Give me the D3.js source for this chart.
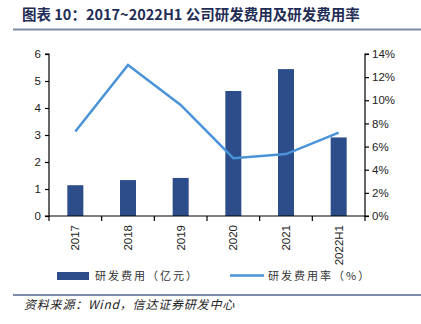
<!DOCTYPE html>
<html><head><meta charset="utf-8">
<script src="https://cdn.jsdelivr.net/npm/d3@7"></script>
<style>
body{margin:0;background:#fff;}
svg{display:block;font-family:"Liberation Sans",Arial,sans-serif;}
</style></head><body>
<svg id="c" width="421" height="324"></svg>
<script>
const categories = ["2017","2018","2019","2020","2021","2022H1"];
const rdExpense = [1.14, 1.33, 1.41, 4.63, 5.44, 2.91];
const rdRate = [7.3, 13.05, 9.6, 5.0, 5.35, 7.2];
const leftTicks = [0,1,2,3,4,5,6];
const rightTicks = [0,2,4,6,8,10,12,14];
const titleText = "图表 10：2017~2022H1 公司研发费用及研发费用率";
const legendLabels = ["研发费用（亿元）","研发费用率（%）"];
const sourceText = "资料来源：Wind，信达证券研发中心";

const svg = d3.select("#c");
const L = 49, R = 365, T = 54, B = 216;
const barColor = "#2c4d8a", lineColor = "#4a93d8";

const xPos = d3.scaleBand().domain(categories).range([L, R]);
const yL = d3.scaleLinear().domain([0,6]).range([B, T]);
const yR = d3.scaleLinear().domain([0,14]).range([B, T]);

// title
svg.append("text").attr("x",22).attr("y",20).attr("fill","#1f2d56")
  .attr("font-size",14.5).attr("font-weight","bold")
  .attr("font-family","'Noto Sans CJK SC','Liberation Sans',sans-serif")
  .text(titleText);
svg.append("line").attr("x1",13).attr("x2",421).attr("y1",29.5).attr("y2",29.5)
  .attr("stroke","#7d8bab").attr("stroke-width",2);

// bars
svg.selectAll("rect.bar").data(categories).enter().append("rect")
  .attr("x", d => xPos(d) + xPos.bandwidth()/2 - 8)
  .attr("width", 16)
  .attr("y", (d,i) => yL(rdExpense[i]))
  .attr("height", (d,i) => B - yL(rdExpense[i]))
  .attr("fill", barColor);

// line
const line = d3.line().x((d,i) => xPos(categories[i]) + xPos.bandwidth()/2).y(d => yR(d));
svg.append("path").datum(rdRate).attr("d", line).attr("fill","none")
  .attr("stroke", lineColor).attr("stroke-width",2.5);

// axes
const axL = svg.append("g").attr("transform",`translate(${L},0)`)
  .call(d3.axisLeft(yL).tickValues(leftTicks).tickFormat(d3.format("d")).tickSize(4).tickPadding(4));
const axR = svg.append("g").attr("transform",`translate(${R},0)`)
  .call(d3.axisRight(yR).tickValues(rightTicks).tickFormat(d => d + "%").tickSize(4).tickPadding(3));
const axX = svg.append("g").attr("transform",`translate(0,${B})`)
  .call(d3.axisBottom(xPos).tickSize(0).tickPadding(0));
// category boundary ticks
const bounds = categories.map(c => xPos(c)).concat([R]);
svg.selectAll("line.xt").data(bounds).enter().append("line")
  .attr("x1", d => d).attr("x2", d => d).attr("y1", B).attr("y2", B + 5)
  .attr("stroke","#000").attr("stroke-width",1.2);
axX.selectAll("text").attr("transform","rotate(-90)").attr("text-anchor","end")
  .attr("x",-9).attr("y",0).attr("dy","0.35em");

[axL, axR, axX].forEach(g => {
  g.selectAll("text").attr("font-size",11.5).attr("fill","#222").attr("font-family","'Liberation Sans',Arial,sans-serif");
  g.selectAll("path.domain,line").attr("stroke","#000").attr("stroke-width",1.2);
});
axL.select("path.domain").attr("d",`M-4,${T}H0V${B}H-4`);
axR.select("path.domain").attr("d",`M4,${T}H0V${B}H4`);
axX.select("path.domain").attr("d",`M${L},0H${R}`);

// legend
const lg = svg.append("g").attr("font-family","'Noto Sans CJK SC',sans-serif").attr("font-size",11).attr("fill","#333");
lg.append("rect").attr("x",57).attr("y",272).attr("width",32).attr("height",8).attr("fill",barColor);
lg.append("text").attr("x",95).attr("y",280).attr("letter-spacing",2).text(legendLabels[0]);
lg.append("line").attr("x1",230).attr("x2",264).attr("y1",275.5).attr("y2",275.5).attr("stroke",lineColor).attr("stroke-width",2.5);
lg.append("text").attr("x",268).attr("y",280).attr("letter-spacing",2).text(legendLabels[1]);

// bottom rule and source
svg.append("line").attr("x1",13).attr("x2",421).attr("y1",295).attr("y2",295)
  .attr("stroke","#7d8bab").attr("stroke-width",2);
svg.append("text").attr("x",24).attr("y",309).attr("font-size",12).attr("font-style","italic")
  .attr("letter-spacing",0.8)
  .attr("fill","#222").attr("font-family","'Noto Sans CJK SC',sans-serif").text(sourceText);
</script>
</body></html>
